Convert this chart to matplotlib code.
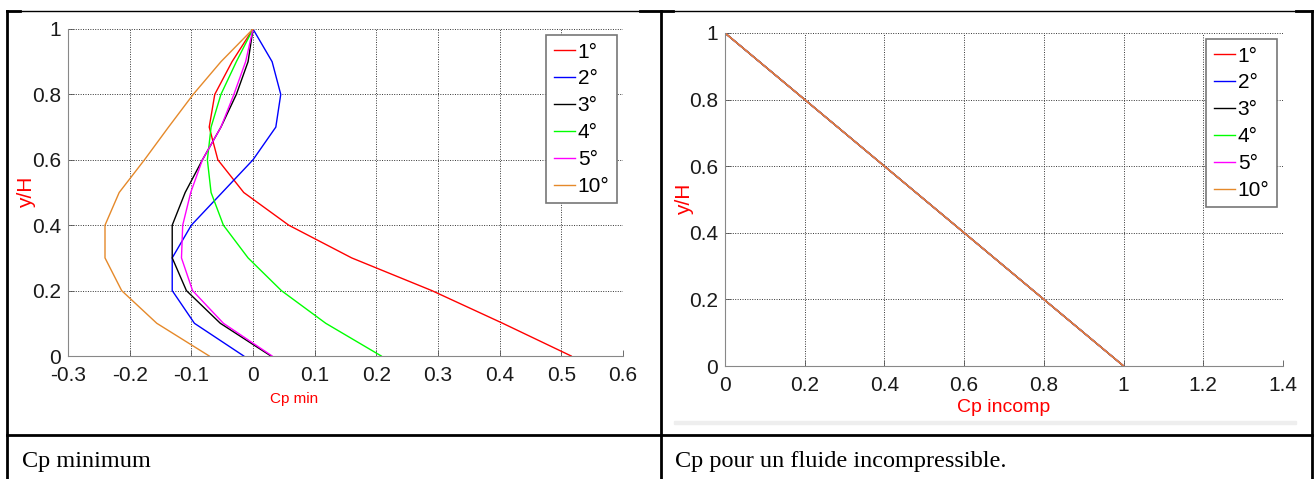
import numpy as np
import matplotlib.pyplot as plt
from matplotlib.lines import Line2D
from matplotlib.patches import Rectangle

# y/H stations
y_h = [0.0, 0.1, 0.2, 0.3, 0.4, 0.5, 0.6, 0.7, 0.8, 0.9, 1.0]

# Cp min for each angle
cp_1 = [0.516, 0.405, 0.29, 0.16, 0.058, -0.015, -0.057, -0.071, -0.062, -0.034, 0.0]
cp_2 = [-0.015, -0.095, -0.131, -0.131, -0.100, -0.050, 0.0, 0.037, 0.045, 0.031, 0.0]
cp_3 = [0.029, -0.053, -0.108, -0.131, -0.131, -0.110, -0.082, -0.052, -0.027, -0.008, 0.0]
cp_4 = [0.208, 0.118, 0.046, -0.008, -0.048, -0.068, -0.074, -0.068, -0.052, -0.027, 0.0]
cp_5 = [0.031, -0.048, -0.098, -0.116, -0.114, -0.101, -0.082, -0.052, -0.031, -0.012, 0.0]
cp_10 = [-0.071, -0.156, -0.213, -0.240, -0.240, -0.217, -0.176, -0.137, -0.097, -0.052, 0.0]

# Cp incompressible (same for all angles)
cp_inc = [1.0, 0.9, 0.8, 0.7, 0.6, 0.5, 0.4, 0.3, 0.2, 0.1, 0.0]

labels = ['1°', '2°', '3°', '4°', '5°', '10°']
colors = ['#ff0000', '#0000ff', '#000000', '#00ff00', '#ff00ff', '#e5892a']

tick_font = ['Liberation Sans', 'DejaVu Sans']

fig = plt.figure(figsize=(13.14, 4.79), dpi=100)
W, H = 1314.0, 479.0


def style_axes(ax, xlim, xticks, xlabel, xlabel_size, xlab_pos, ylab_x):
    ax.set_xlim(xlim)
    ax.set_ylim(0, 1)
    ax.set_xticks(xticks)
    ax.set_yticks([0, 0.2, 0.4, 0.6, 0.8, 1])
    ax.set_xticklabels(['%g' % t for t in xticks])
    ax.set_yticklabels(['0', '0.2', '0.4', '0.6', '0.8', '1'])
    ax.grid(True, linestyle=(0, (1, 1.5)), color='#333333', linewidth=0.7)
    ax.tick_params(direction='in', length=4, width=0.6, color='#555555',
                   labelsize=15, labelcolor='#1a1a1a')
    ax.tick_params(axis='x', pad=7)
    ax.tick_params(axis='y', pad=5)
    for lab in ax.get_xticklabels() + ax.get_yticklabels():
        lab.set_family(tick_font)
    for s in ax.spines.values():
        s.set_color('#888888')
        s.set_linewidth(0.8)
    ax.spines['top'].set_visible(False)
    ax.spines['right'].set_visible(False)
    ax.set_xlabel(xlabel, color='#ff0000', fontsize=xlabel_size, family=tick_font)
    ax.xaxis.set_label_coords(xlab_pos[0], xlab_pos[1])
    ax.set_ylabel('y/H', color='#ff0000', fontsize=15, family=tick_font)
    ax.yaxis.set_label_coords(ylab_x, 0.5)
    leg = ax.legend(loc='upper right', handlelength=1.0, handletextpad=0.15,
                    labelspacing=0.38, borderpad=0.35, fancybox=False, framealpha=1,
                    borderaxespad=0.3, prop={'family': tick_font, 'size': 15})
    leg.get_frame().set_edgecolor('#777777')
    leg.get_frame().set_linewidth(1.2)


# left chart: Cp min
ax1 = fig.add_axes([68 / W, 1 - 356 / H, (623 - 68) / W, (356 - 29) / H])
for cp, lab, c in zip([cp_1, cp_2, cp_3, cp_4, cp_5, cp_10], labels, colors):
    ax1.plot(cp, y_h, color=c, linewidth=1.0, label=lab)
style_axes(ax1, (-0.3, 0.6), [-0.3, -0.2, -0.1, 0, 0.1, 0.2, 0.3, 0.4, 0.5, 0.6],
           'Cp min', 11, (0.407, -0.11), -0.058)

# right chart: Cp incompressible
ax2 = fig.add_axes([725 / W, 1 - 366 / H, (1283 - 725) / W, (366 - 33) / H])
for lab, c in zip(labels, colors):
    ax2.plot(cp_inc, y_h, color=c, linewidth=1.0, label=lab)
style_axes(ax2, (0, 1.4), [0, 0.2, 0.4, 0.6, 0.8, 1.0, 1.2, 1.4],
           'Cp incomp', 14, (0.5, -0.1), -0.056)


# table borders
def hline(x0, x1, y, lw=2.0, color='black'):
    fig.add_artist(Line2D([x0 / W, x1 / W], [1 - y / H, 1 - y / H], color=color, linewidth=lw))


def vline(x, y0, y1, lw=2.0, color='black'):
    fig.add_artist(Line2D([x / W, x / W], [1 - y0 / H, 1 - y1 / H], color=color, linewidth=lw))


hline(7, 1312, 11, lw=1.0)
hline(7, 20, 11)
hline(640, 673, 11)
hline(1296, 1312, 11)
hline(7, 1312, 435)
vline(7, 11, 479)
vline(661, 11, 479)
vline(1312, 11, 479)
fig.add_artist(Rectangle((674 / W, 1 - 424 / H), (1296 - 674) / W, 3 / H,
                         color='#eeeeee', transform=fig.transFigure))

fig.text(22 / W, 1 - 467 / H, 'Cp minimum', family='Liberation Serif', fontsize=17.5,
         va='baseline')
fig.text(675 / W, 1 - 467 / H, 'Cp pour un fluide incompressible.', family='Liberation Serif',
         fontsize=17.5, va='baseline')

fig.savefig('out.png', dpi=100)
